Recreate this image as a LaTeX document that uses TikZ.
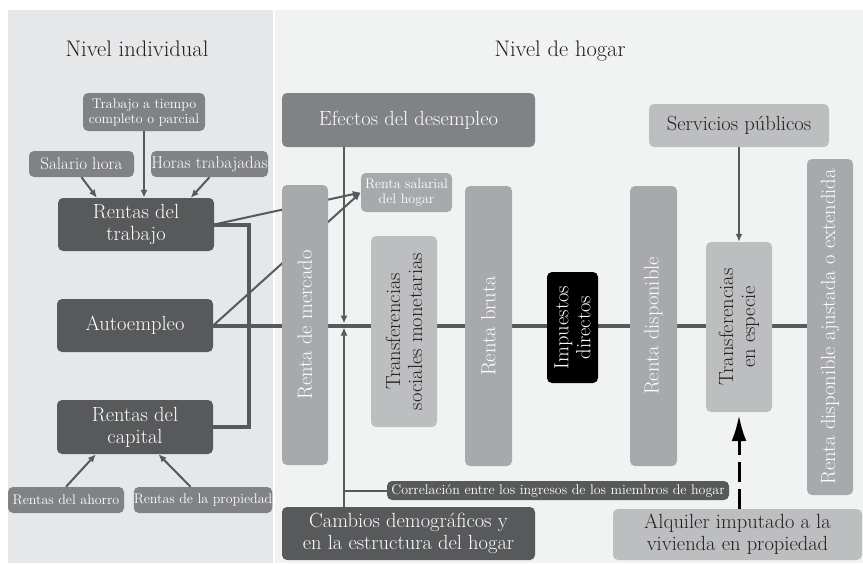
\documentclass[tikz,border=0pt]{standalone}
\usetikzlibrary{arrows.meta}
\usetikzlibrary{calc}
\definecolor{panelL}{HTML}{E6E7E8}
\definecolor{panelR}{HTML}{F1F2F2}
\definecolor{gray1}{HTML}{58595B}
\definecolor{gray2}{HTML}{808285}
\definecolor{gray3}{HTML}{A7A9AC}
\definecolor{gray4}{HTML}{BCBEC0}
\definecolor{ink}{HTML}{231F20}
\pgfdeclarelayer{back}
\pgfdeclarelayer{lines}
\pgfsetlayers{back,lines,main}

\begin{document}
\begin{tikzpicture}[x=1pt, y=-1pt,
  box/.style={rounded corners=5pt, inner sep=0pt, align=center},
  darkbox/.style={box, fill=gray1, text=white},
  midbox/.style={box, fill=gray2, text=white},
  lmidbox/.style={box, fill=gray3, text=white},
  lightbox/.style={box, fill=gray4, text=ink},
  blackbox/.style={box, fill=black, text=white},
  titletext/.style={font=\fontsize{22.5}{24}\selectfont, text=ink, inner sep=0pt},
  big/.style={font=\fontsize{20.5}{22}\selectfont},
  med/.style={font=\fontsize{17}{18}\selectfont},
  small/.style={font=\fontsize{14}{15}\selectfont},
  arrowline/.style={draw=gray1, line width=2pt, -{Latex[length=8pt,width=7pt]}},
  linkline/.style={draw=gray1, line width=2pt},
  mainline/.style={draw=gray1, line width=4pt},
  dasharrow/.style={draw=black, line width=3pt, dash pattern=on 20pt off 7pt,
    -{Latex[length=26pt,width=15pt]}, shorten >=3pt}]
  \useasboundingbox (0,0) rectangle (863,563);
  \begin{pgfonlayer}{back}
    \fill[panelL] (8,10) rectangle (273,563);
    \fill[panelR] (275,10) rectangle (863,563);
  \end{pgfonlayer}

  \node[titletext, anchor=base] (tind) at (137,56) {Nivel individual};
  \node[titletext, anchor=base] (thog) at (560,56) {Nivel de hogar};

  \node[midbox, small, minimum width=122pt, minimum height=38pt] (ntiempo) at (144,112) {Trabajo a tiempo\\completo o parcial};
  \node[midbox, med, minimum width=105pt, minimum height=26pt] (nsal) at (81.5,164) {Salario hora};
  \node[midbox, med, minimum width=117pt, minimum height=26pt] (nhoras) at (209.5,164) {Horas trabajadas};
  \node[darkbox, big, minimum width=156pt, minimum height=53pt] (ntrab) at (136,224.5) {Rentas del\\trabajo};
  \node[darkbox, big, minimum width=156pt, minimum height=53pt] (nauto) at (135,325.5) {Autoempleo};
  \node[darkbox, big, minimum width=156pt, minimum height=54pt] (ncap) at (135,427) {Rentas del\\capital};
  \node[midbox, small, minimum width=116pt, minimum height=26pt] (nahorro) at (66,500) {Rentas del ahorro};
  \node[midbox, small, minimum width=138pt, minimum height=26pt] (nprop) at (203,500) {Rentas de la propiedad};

  \node[midbox, big, minimum width=253pt, minimum height=54pt] (nefec) at (408.5,120) {Efectos del desempleo};
  \node[lmidbox, small, minimum width=91pt, minimum height=39pt] (nsalh) at (406.5,192.5) {Renta salarial\\del hogar};
  \node[lmidbox, big, rotate=90, minimum width=280pt, minimum height=46pt] (nmerc) at (305,325) {Renta de mercado};
  \node[lightbox, big, rotate=90, minimum width=191pt, minimum height=66pt] (nsoc) at (404,331.5) {Transferencias\\sociales monetarias};
  \node[lmidbox, big, rotate=90, minimum width=280pt, minimum height=47pt] (nbruta) at (488.5,326) {Renta bruta};
  \node[blackbox, big, rotate=90, minimum width=111pt, minimum height=51pt] (nimp) at (572.5,327.5) {Impuestos\\directos};
  \node[lmidbox, big, rotate=90, minimum width=280pt, minimum height=47pt] (ndisp) at (653.5,326) {Renta disponible};
  \node[lightbox, big, minimum width=180pt, minimum height=43pt] (nserv) at (739,125.5) {Servicios públicos};
  \node[lightbox, big, rotate=90, minimum width=170pt, minimum height=66pt] (nesp) at (739,327) {Transferencias\\en especie};
  \node[lmidbox, big, rotate=90, minimum width=336pt, minimum height=46pt] (nextd) at (830,327) {Renta disponible ajustada o extendida};
  \node[darkbox, small, minimum width=342pt, minimum height=19pt] (ncorr) at (558,490.5) {Correlación entre los ingresos de los miembros de hogar};
  \node[darkbox, big, minimum width=253pt, minimum height=53pt] (ncamb) at (408.5,533.5) {Cambios demográficos y\\en la estructura del hogar};
  \node[lightbox, big, minimum width=249pt, minimum height=51pt] (nalq) at (737.5,534.5) {Alquiler imputado a la\\vivienda en propiedad};

  \coordinate (cx) at (344,0);

  \begin{pgfonlayer}{lines}
    \draw[mainline] (nauto.east) -- (nauto.east -| nextd.north);
    \draw[mainline] (ntrab.east) -- ++(35,0) |- (ncap.east);
    \foreach \from/\to in {ntrab.east/nsalh.west, nauto.east/nsalh.west}
      \draw[arrowline] (\from) -- (\to);
  \end{pgfonlayer}

  \draw[arrowline] (ntiempo.south) -- (ntiempo.south |- ntrab.north);
  \draw[arrowline] (nsal.south) -- ($(ntrab.north west)!0.25!(ntrab.north east)$);
  \draw[arrowline] (nhoras.south) -- ($(ntrab.north west)!0.85!(ntrab.north east)$);
  \draw[arrowline] (nahorro.north) -- ($(ncap.south west)!0.25!(ncap.south east)$);
  \draw[arrowline] ($(nprop.north west)!0.41!(nprop.north east)$) -- ($(ncap.south west)!0.65!(ncap.south east)$);
  \draw[arrowline] (nefec.south -| cx) -- ([yshift=2pt]nauto.east -| cx);
  \draw[arrowline] (ncamb.north -| cx) -- ([yshift=-2pt]nauto.east -| cx);
  \draw[linkline] (ncorr.west) -- (ncorr.west -| cx);
  \draw[arrowline] (nserv.south) -- (nesp.east);
  \draw[dasharrow] (nalq.north -| nesp.west) -- (nesp.west);
\end{tikzpicture}
\end{document}
